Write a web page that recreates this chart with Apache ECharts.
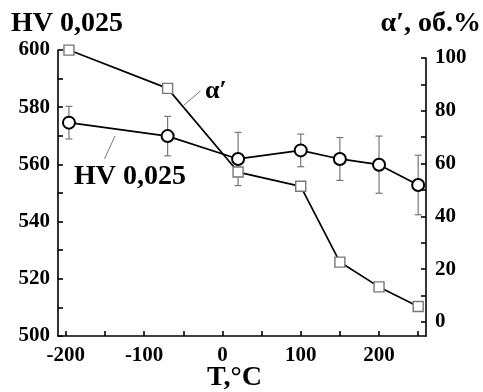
<!DOCTYPE html>
<html><head><meta charset="utf-8">
<script src="https://cdn.jsdelivr.net/npm/echarts@6/dist/echarts.min.js"></script>
<style>html,body{margin:0;padding:0;background:#fff}#c{width:483px;height:392px}</style>
</head><body><div id="c"></div>
<script>
const temps = [-196, -70, 20, 100, 150, 200, 250];
const hv = [574.6, 569.9, 561.9, 564.9, 561.9, 559.9, 552.8];
const hvErr = [5.7, 6.9, 9.3, 5.7, 7.5, 10.0, 10.4];
const alpha = [103, 88.5, 56.8, 51.4, 22.7, 13.3, 5.9];
const xTickLabels = [-200, -100, 0, 100, 200];
const xTicks = [-200, -150, -100, -50, 0, 50, 100, 150, 200, 250];
const hvTickLabels = [500, 520, 540, 560, 580, 600];
const hvTicks = [500, 510, 520, 530, 540, 550, 560, 570, 580, 590, 600];
const alphaTickLabels = [0, 20, 40, 60, 80, 100];
const alphaTicks = [0, 10, 20, 30, 40, 50, 60, 70, 80, 90, 100];

const FONT = '"Liberation Serif", "Times New Roman", serif';
const chart = echarts.init(document.getElementById('c'));
const lbl = {color:'#000', fontFamily:FONT, fontWeight:'bold', fontSize:21};
const LW = 1.6;
chart.setOption({
  animation:false,
  grid:[
    {left:58, right:57, top:50, bottom:56, containLabel:false},
    {left:58, right:57, top:58, bottom:56, containLabel:false}
  ],
  xAxis:[
    {type:'value', gridIndex:0, min:-210, max:260,
      axisLine:{show:true, onZero:false, lineStyle:{color:'#000', width:LW}},
      axisTick:{show:true, inside:true, length:5, customValues:xTicks, lineStyle:{color:'#000', width:LW}},
      axisLabel:Object.assign({margin:9, customValues:xTickLabels}, lbl),
      splitLine:{show:false}},
    {type:'value', gridIndex:1, min:-210, max:260, show:false}
  ],
  yAxis:[
    {type:'value', gridIndex:0, min:500, max:600, position:'left',
      axisLine:{show:true, onZero:false, lineStyle:{color:'#000', width:LW}},
      axisTick:{show:true, inside:true, length:5, customValues:hvTicks, lineStyle:{color:'#000', width:LW}},
      axisLabel:Object.assign({margin:8, customValues:hvTickLabels}, lbl),
      splitLine:{show:false}},
    {type:'value', gridIndex:1, min:-5.3, max:100, position:'right',
      axisLine:{show:true, onZero:false, lineStyle:{color:'#000', width:LW}},
      axisTick:{show:true, inside:true, length:5, customValues:alphaTicks, lineStyle:{color:'#000', width:LW}},
      axisLabel:Object.assign({margin:9, customValues:alphaTickLabels}, lbl),
      splitLine:{show:false}}
  ],
  series:[
    {type:'custom', xAxisIndex:0, yAxisIndex:0, z:1,
      data: temps.map((t,i)=>[t, hv[i]-hvErr[i], hv[i]+hvErr[i]]),
      renderItem:function(params, api){
        const lo = api.coord([api.value(0), api.value(1)]);
        const hi = api.coord([api.value(0), api.value(2)]);
        const w = 3.5;
        const st = {stroke:'#777', lineWidth:1.2, fill:null};
        return {type:'group', children:[
          {type:'line', shape:{x1:lo[0], y1:lo[1], x2:hi[0], y2:hi[1]}, style:st},
          {type:'line', shape:{x1:lo[0]-w, y1:lo[1], x2:lo[0]+w, y2:lo[1]}, style:st},
          {type:'line', shape:{x1:hi[0]-w, y1:hi[1], x2:hi[0]+w, y2:hi[1]}, style:st}
        ]};
      }},
    {type:'line', xAxisIndex:1, yAxisIndex:1, z:2, data: temps.map((t,i)=>[t, alpha[i]]),
      symbol:'rect', symbolSize:10, clip:false,
      lineStyle:{color:'#000', width:1.7},
      itemStyle:{color:'#fff', borderColor:'#777', borderWidth:1.4}},
    {type:'line', xAxisIndex:0, yAxisIndex:0, z:3, data: temps.map((t,i)=>[t, hv[i]]),
      symbol:'circle', symbolSize:12, clip:false,
      lineStyle:{color:'#000', width:1.7},
      itemStyle:{color:'#fff', borderColor:'#000', borderWidth:2}}
  ],
  graphic:[
    {type:'text', left:11, top:10, style:{text:'HV 0,025', font:'bold 28px '+FONT, fill:'#000'}},
    {type:'text', right:2, top:10, style:{text:'α′, об.%', font:'bold 28px '+FONT, fill:'#000'}},
    {type:'text', left:207, top:364, style:{text:'T,°C', font:'bold 28px '+FONT, fill:'#000'}},
    {type:'text', left:205, top:78, style:{text:'α′', font:'bold 26px '+FONT, fill:'#000'}},
    {type:'line', shape:{x1:184, y1:105, x2:200.5, y2:91}, style:{stroke:'#777', lineWidth:1}},
    {type:'text', left:74, top:163, style:{text:'HV 0,025', font:'bold 28px '+FONT, fill:'#000'}},
    {type:'line', shape:{x1:104.5, y1:159, x2:115, y2:136}, style:{stroke:'#777', lineWidth:1}}
  ]
});
</script></body></html>
